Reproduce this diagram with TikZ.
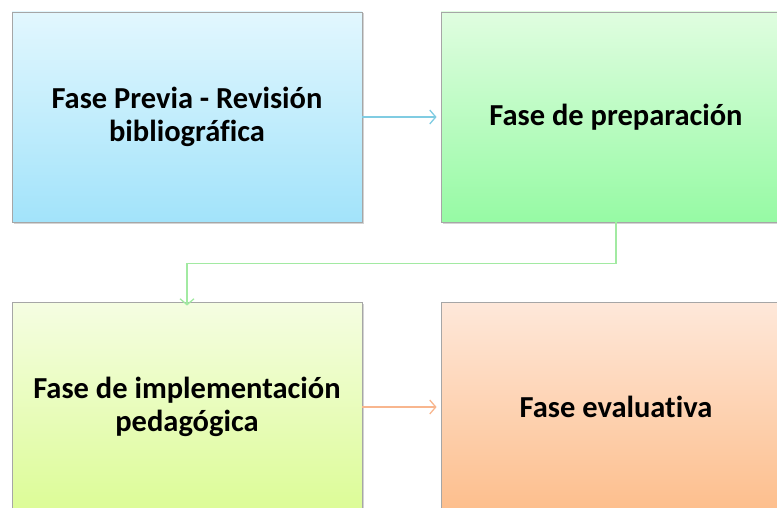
\documentclass[tikz,border=0pt]{standalone}
\usepackage{fontspec}
\setmainfont{Carlito}[Ligatures=NoCommon]
\usetikzlibrary{arrows.meta,shadows}

\tikzset{
    phase/.style={draw=gray!70, line width=0.8pt, minimum width=350pt, minimum height=210pt,
        align=center, font=\fontsize{30.5}{33}\selectfont\bfseries, inner sep=0pt,
        drop shadow={shadow xshift=1.5pt, shadow yshift=-1.5pt, opacity=0.35}},
    link/.style={line width=1.3pt, -{Straight Barb[length=6pt,width=14pt]}}
}

\definecolor{blueTop}{HTML}{E2F7FE}
\definecolor{blueBot}{HTML}{A2E3FA}
\definecolor{greenTop}{HTML}{E0FDE0}
\definecolor{greenBot}{HTML}{96FAA4}
\definecolor{limeTop}{HTML}{F5FDE2}
\definecolor{limeBot}{HTML}{DCFC96}
\definecolor{peachTop}{HTML}{FEE8DA}
\definecolor{peachBot}{HTML}{FDBE8C}
\definecolor{blueLink}{HTML}{80CCE2}
\definecolor{greenLink}{HTML}{A2EAA2}
\definecolor{peachLink}{HTML}{F8B68E}

\begin{document}
\begin{tikzpicture}[x=1pt,y=-1pt]
    \useasboundingbox (0,0) rectangle (777,508);
    \clip (0,0) rectangle (777,508);

    % Phase boxes
    \node[phase, top color=blueTop, bottom color=blueBot] (previa) at (187,117)
        {Fase Previa - Revisión\\bibliográfica};
    \node[phase, top color=greenTop, bottom color=greenBot] (prep) at (616,117)
        {Fase de preparación};
    \node[phase, top color=limeTop, bottom color=limeBot] (impl) at (187,407)
        {Fase de implementación\\pedagógica};
    \node[phase, top color=peachTop, bottom color=peachBot] (eval) at (616,407)
        {Fase evaluativa};

    % Connectors
    \draw[link, blueLink] (previa.east) -- ([xshift=-4pt]prep.west);
    \draw[link, greenLink] (prep.south) -- ++(0,41) -| ([yshift=-4pt]impl.north);
    \draw[link, peachLink] (impl.east) -- ([xshift=-4pt]eval.west);
\end{tikzpicture}
\end{document}
